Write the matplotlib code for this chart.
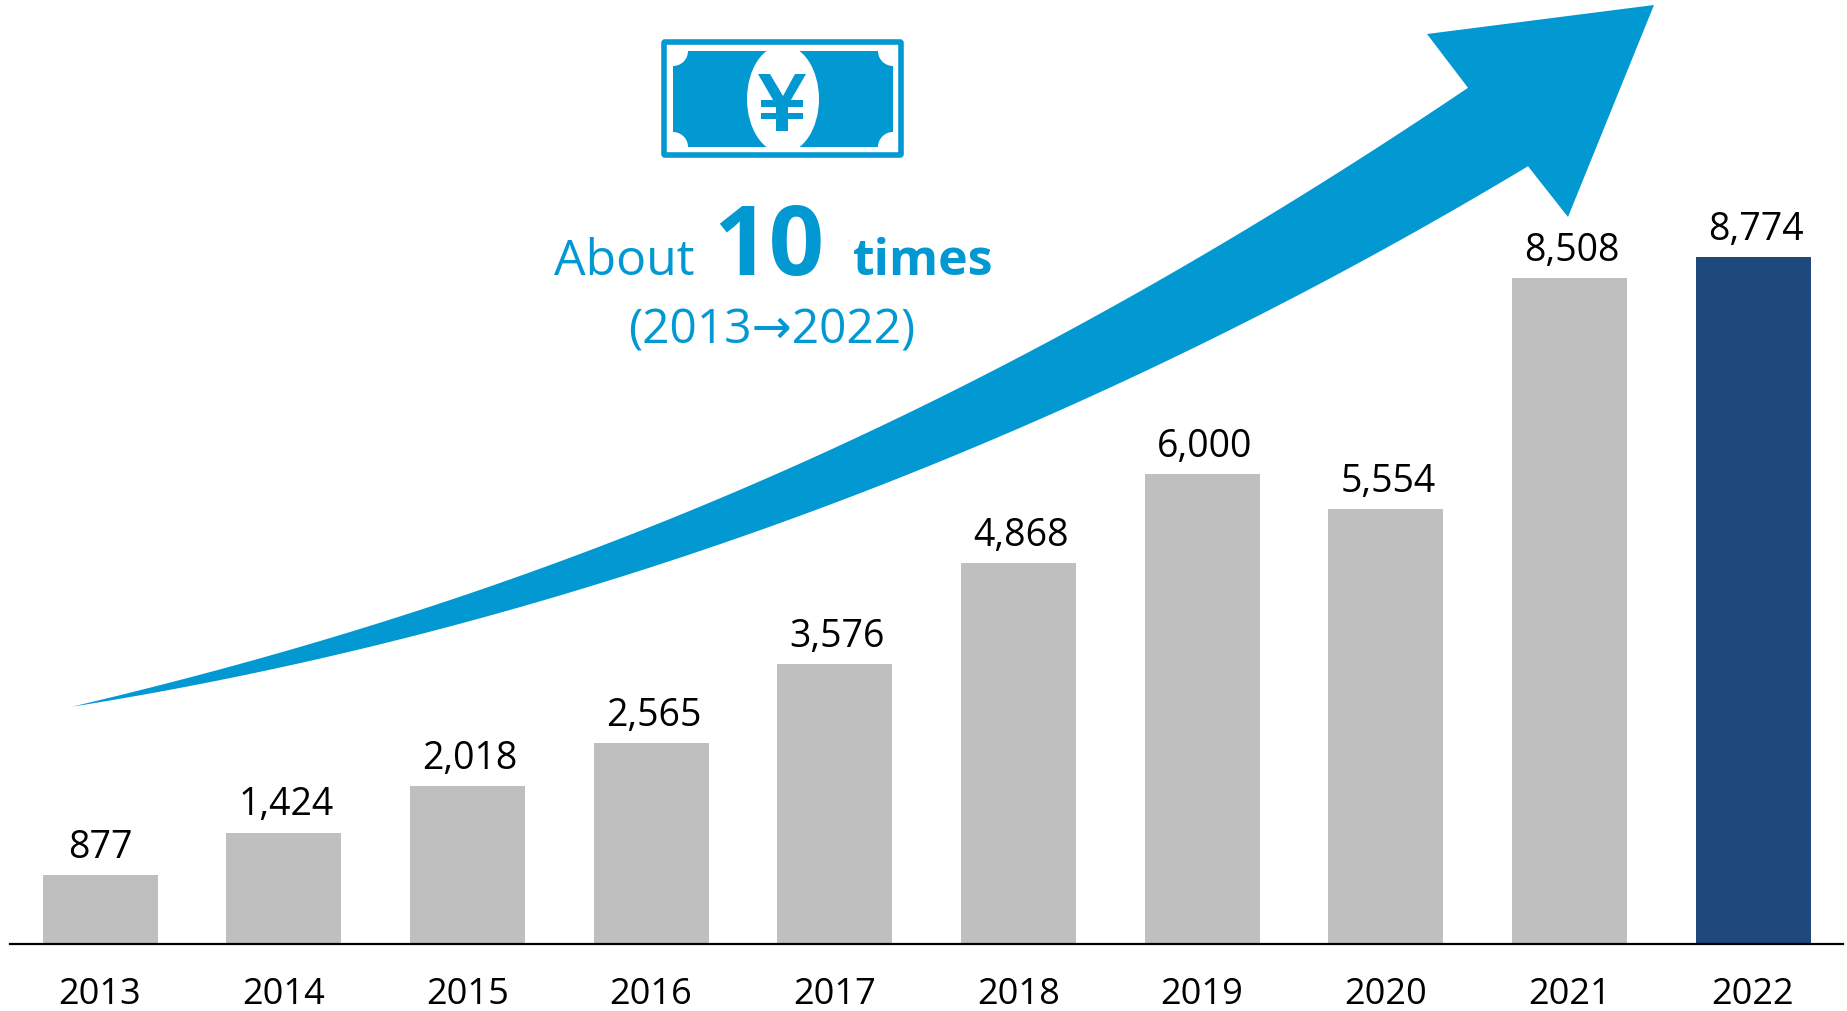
import numpy as np
from matplotlib import pyplot as plt
from matplotlib.patches import Circle, Ellipse, Polygon, Rectangle, FancyBboxPatch

plt.rcParams['font.family'] = ['Open Sans', 'DejaVu Sans']

years = ['2013', '2014', '2015', '2016', '2017', '2018', '2019', '2020', '2021', '2022']
values = [877, 1424, 2018, 2565, 3576, 4868, 6000, 5554, 8508, 8774]
bar_colors = ['#BFBFBF'] * 9 + ['#1F497D']
blue = '#0298D2'

W, H = 1847, 1012
fig = plt.figure(figsize=(W / 100, H / 100), dpi=100)

# bars, left/right of the axes follow the base line in the picture
left, right, base = 10, 1843, 945
ax = fig.add_axes([left / W, 1 - base / H, (right - left) / W, base / H])
x = np.arange(len(years))
step = 183.67
ax.bar(x, values, width=115 / step, color=bar_colors)
ax.set_xlim((left - 100) / step, (right - 100) / step)
ax.set_ylim(0, base / 0.07827)
ax.set_xticks(x)
ax.set_xticklabels(years, fontsize=26)
ax.tick_params(axis='x', length=0, pad=23)
ax.set_yticks([])
for s in ['top', 'left', 'right']:
    ax.spines[s].set_visible(False)
ax.spines['bottom'].set_linewidth(1.6)
ax.patch.set_alpha(0)
for i, v in enumerate(values):
    ax.annotate(f'{v:,}', (x[i], v), xytext=(2 if v > 999 else 0, 13), textcoords='offset points',
                ha='center', va='baseline', fontsize=27, color='black')

# overlay in picture pixels for the arrow, the note and the icon
deco = fig.add_axes([0, 0, 1, 1], zorder=-1)
deco.set_xlim(0, W)
deco.set_ylim(H, 0)
deco.axis('off')

# arrow edges
up_x = [72, 193, 347, 560, 793, 927, 1060, 1173, 1307, 1468]
up_y = [708, 677, 634, 563, 468, 403, 337, 275, 192, 89]
lo_x = [72, 193, 347, 560, 677, 827, 973, 1132, 1273, 1373, 1528]
lo_y = [708, 686, 653, 597, 560, 507, 447, 380, 308, 257, 167]
xs = np.linspace(72, 1468, 200)
top_edge = np.column_stack([xs, np.polyval(np.polyfit(up_x, up_y, 4), xs)])
xs = np.linspace(72, 1528, 200)
low_edge = np.column_stack([xs, np.polyval(np.polyfit(lo_x, lo_y, 4), xs)])
head = [(1427, 35), (1654, 6), (1568, 218)]
deco.add_patch(Polygon(np.vstack([top_edge, head, low_edge[::-1]]), closed=True, fc=blue, ec='none'))

# note
deco.text(554, 275, 'About', fontsize=36, color=blue, ha='left', va='baseline')
deco.text(769, 275, '10', fontsize=70, color=blue, ha='center', va='baseline', fontweight='bold')
deco.text(853, 275, 'times', fontsize=36, color=blue, ha='left', va='baseline', fontweight='bold')
deco.text(772, 343, '(2013→2022)', fontsize=34.5, color=blue, ha='center', va='baseline')

# banknote icon
deco.add_patch(FancyBboxPatch((664, 43), 237, 113, boxstyle='round,pad=0,rounding_size=1',
                              fc='white', ec=blue, lw=4))
note = Rectangle((673, 52), 220, 96, fc=blue, ec='none')
deco.add_patch(note)
for cx, cy in [(673, 52), (893, 52), (673, 148), (893, 148)]:
    c = Circle((cx, cy), 15, fc='white', ec='none')
    deco.add_patch(c)
    c.set_clip_path(note)
oval = Ellipse((783, 100), 72, 108, fc='white', ec='none')
deco.add_patch(oval)
oval.set_clip_path(note)
yen_y = [(758, 75), (770, 75), (783, 97), (795, 75), (806, 75), (788, 106), (788, 132),
         (776, 132), (776, 106)]
deco.add_patch(Polygon(yen_y, closed=True, fc=blue, ec='none'))
deco.add_patch(Rectangle((761, 101), 42, 7, fc=blue, ec='none'))
deco.add_patch(Rectangle((761, 114), 42, 6, fc=blue, ec='none'))

fig.savefig('out.png', dpi=100)
